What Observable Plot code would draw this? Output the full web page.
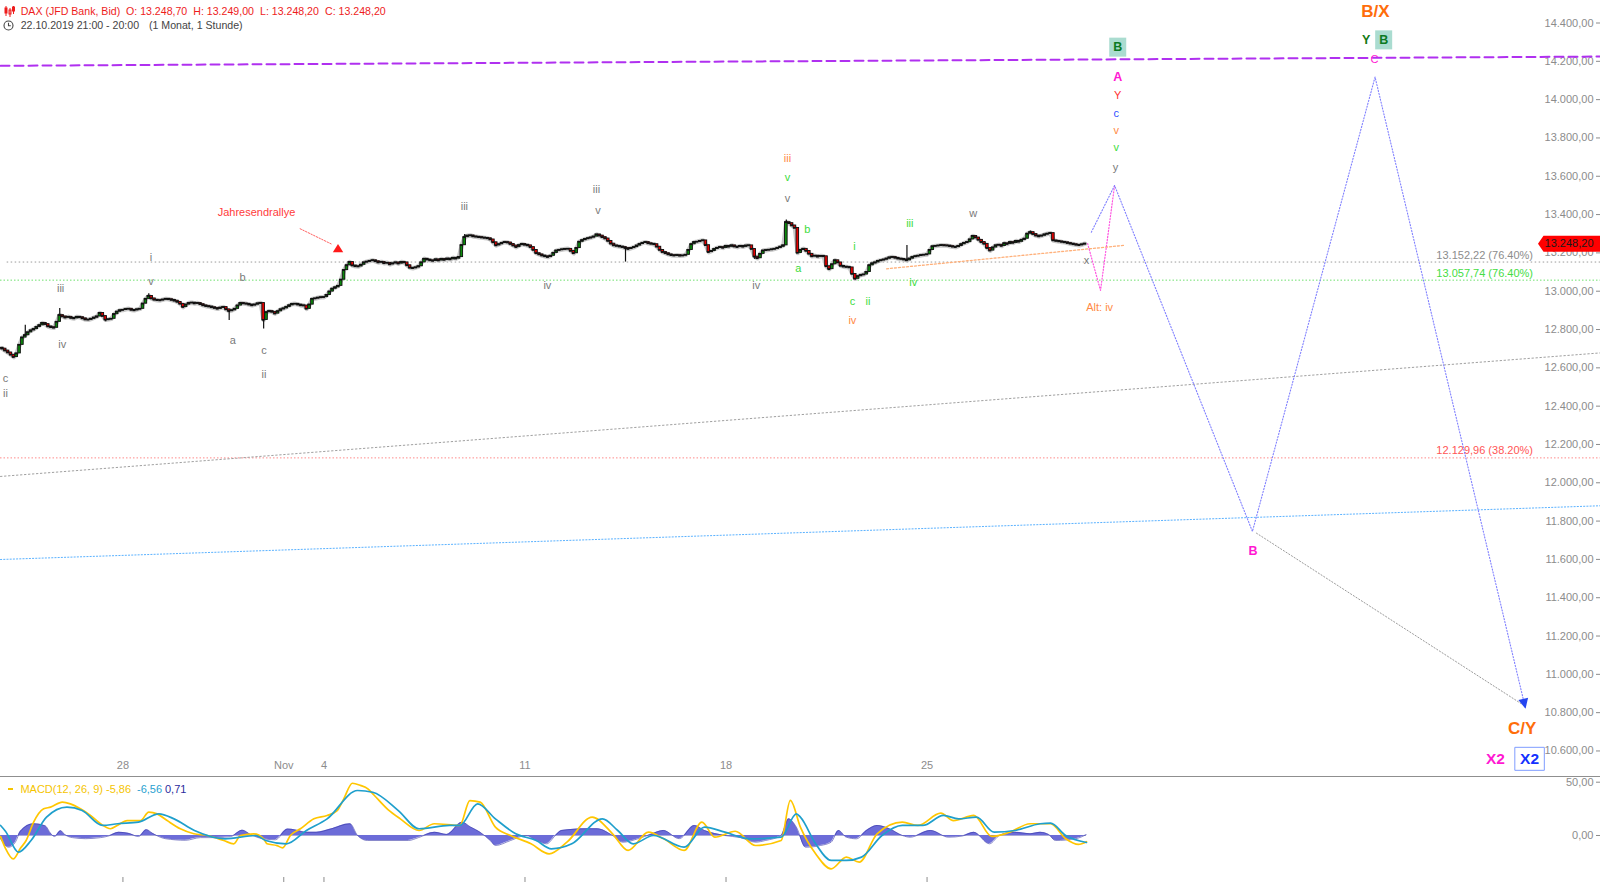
<!DOCTYPE html>
<html><head><meta charset="utf-8">
<script src="https://cdn.jsdelivr.net/npm/d3@7"></script>
<script src="https://cdn.jsdelivr.net/npm/@observablehq/plot@0.6"></script>
<style>
html,body{margin:0;padding:0;background:#fff;}
#wrap{position:relative;width:1600px;height:882px;overflow:hidden;font-family:"Liberation Sans",Arial,sans-serif;}
#main{position:absolute;left:0;top:0;}
#macd{position:absolute;left:0;top:776px;border-top:1px solid #8f8f8f;width:1600px;height:105px;}
.hd{position:absolute;white-space:nowrap;line-height:1;}
</style></head><body>
<div id="wrap">
  <div id="main"></div>
  <div id="macd"></div>
  <div id="header"></div>
  <div id="legend"></div>
</div>
<script>
// ---------------- DATA ----------------
// hourly closes (14 bars per trading day), bar 0 = Wed 23.10.2019 08:00
const closes = [
12700,12690,12680,12668,12656,12675,12720,12758,12770,12785,
12795,12802,12813,12822,12834,12828,12816,12812,12809,12840,
12875,12868,12862,12866,12860,12858,12866,12864,12858,12852,
12851,12856,12862,12868,12886,12870,12851,12853,12856,12880,
12893,12900,12902,12906,12908,12902,12900,12905,12908,12935,
12960,12975,12962,12955,12953,12952,12956,12960,12958,12954,
12950,12944,12934,12917,12930,12938,12940,12936,12938,12932,
12926,12922,12920,12916,12912,12908,12914,12917,12905,12896,
12900,12908,12925,12938,12936,12934,12930,12926,12930,12936,
12938,12850,12890,12896,12892,12883,12895,12905,12910,12918,
12926,12933,12934,12930,12926,12925,12908,12930,12960,12962,
12966,12968,12969,12980,12998,13013,13020,13028,13060,13110,
13135,13152,13134,13130,13129,13138,13150,13154,13158,13161,
13156,13150,13153,13146,13148,13140,13145,13150,13144,13152,
13150,13135,13122,13120,13124,13130,13150,13169,13165,13161,
13158,13166,13160,13168,13163,13170,13166,13174,13170,13178,
13240,13282,13290,13291,13286,13284,13282,13280,13278,13276,
13270,13255,13239,13245,13252,13256,13254,13246,13238,13230,
13240,13246,13242,13239,13230,13215,13198,13192,13186,13182,
13178,13185,13200,13212,13215,13218,13220,13221,13210,13198,
13225,13258,13266,13272,13276,13280,13285,13296,13290,13282,
13275,13262,13248,13239,13236,13233,13230,13225,13220,13225,
13230,13238,13246,13252,13256,13250,13247,13245,13232,13215,
13204,13198,13192,13188,13186,13188,13185,13186,13190,13215,
13245,13256,13258,13262,13265,13240,13204,13210,13220,13226,
13230,13226,13236,13232,13239,13233,13230,13236,13232,13238,
13239,13220,13180,13172,13195,13212,13214,13216,13218,13221,
13226,13232,13239,13360,13355,13343,13330,13200,13215,13221,
13210,13195,13182,13185,13180,13184,13182,13130,13115,13140,
13161,13150,13132,13128,13126,13124,13090,13065,13078,13085,
13087,13100,13135,13145,13150,13158,13161,13165,13170,13176,
13178,13174,13170,13168,13165,13161,13170,13178,13182,13185,
13188,13190,13192,13215,13234,13236,13238,13240,13239,13238,
13235,13232,13230,13236,13245,13252,13256,13270,13288,13280,
13268,13256,13247,13225,13212,13228,13239,13242,13236,13250,
13246,13256,13252,13262,13258,13268,13274,13300,13308,13298,
13290,13286,13290,13296,13300,13303,13265,13262,13260,13257,
13255,13251,13248,13245,13242,13240,13244,13248
];
const firstOpen = 12705;
const wickHighs = [[8,12822],[20,12910],[51,12987],[161,13296],[273,13372],[315,13239],[358,13314]];
const wickLows = [[36,12840],[79,12847],[91,12803],[217,13152],[262,13165],[297,13058]];
const lastPrice = 13248.20;

// x-axis: first bar of each labelled trading day
const dayTickBars = [42, 98, 112, 182, 252, 322];
const dayTickLabels = ["28", "Nov", "4", "11", "18", "25"];
const priceTicks = [10600,10800,11000,11200,11400,11600,11800,12000,12200,12400,12600,12800,13000,13200,13400,13600,13800,14000,14200,14400];
const macdTicks = [0, 50];

// retracement levels
const fibPrices = [13152.22, 13057.74, 12129.96];
const fibPcts = ["76.40%", "76.40%", "38.20%"];

// lines: [bar, price]
const resistanceLine = [[-0.63, 14176.6], [556.5, 14225]];
const lowerTrend = [[-0.63, 12033], [556.5, 12678]];
const channelLine = [[-0.63, 11599.5], [556.5, 11880]];
const projectionPath = [[379.2, 13308], [387.3, 13552], [435.3, 11746], [478, 14118], [530.4, 10821]];
const altPath = [[377.9, 13249], [382.4, 13004], [387.3, 13552]];
const orangeLine = [[307.9, 13117], [390.4, 13239]];
const bTargetLine = [[436.7, 11737], [529.3, 10843]];
const rallyArrow = [[103.7, 13326], [114.5, 13247]];
const rallyMarker = [[116.9, 13224.5]];

// labels: [bar, price, text]
const grayWaves = [[1.1,12543,"c"],[1.1,12468,"ii"],[20.3,13012,"iii"],[20.9,12720,"iv"],[51.8,13177,"i"],[51.8,13052,"v"],[83.7,13070,"b"],[80.3,12743,"a"],[91.1,12690,"c"],[91.1,12564,"ii"],[160.9,13444,"iii"],[189.8,13028,"iv"],[206.9,13531,"iii"],[207.4,13421,"v"],[262.5,13030,"iv"],[273.4,13482,"v"],[338.1,13407,"w"],[377.5,13160,"x"],[387.6,13647,"y"]];
const greenWaves = [[273.4,13592,"v"],[280.3,13322,"b"],[277.2,13120,"a"],[296.7,13233,"i"],[296,12948,"c"],[301.4,12948,"ii"],[316,13355,"iii"],[317.2,13047,"iv"],[387.9,13752,"v"]];
const orangeWaves = [[273.4,13691,"iii"],[296,12847,"iv"],[387.9,13839,"v"],[382.1,12913,"Alt: iv"]];
const magentaMajor = [[388.4,14117,"A"],[435.5,11646,"B"]];
const magentaSmall = [[477.8,14208,"C"]];
const magentaX = [[519.9,10559,"X2"]];
const redSmall = [[388.4,14021,"Y"]];
const blueSmall = [[387.9,13926,"c"]];
const greenMajor = [[474.9,14312,"Y"]];
const boxedB = [[388.4,14274,"B"],[481,14312,"B"]];
const orangeMajor = [[478.1,14461,"B/X"],[529.2,10716,"C/Y"]];
const boxedX = [[531.8,10559,"X2"]];
const noteLabels = [[88.5,13409,"Jahresendrallye"]];

// MACD(12,26,9): [bar, value]
const macdLine = [[-0.6,-1],[1.1,-12],[3.8,-22],[6.3,-12],[8.3,-4.7],[10.9,12.5],[14.4,25],[16.8,26.6],[20.9,31.3],[23.7,29.7],[27.2,25],[30.7,18.8],[34.2,11],[37.7,6.3],[40,9.4],[43.5,14],[48.1,14],[51,21.9],[53.9,20.3],[57.4,14],[62,6.3],[66.7,1.6],[71.3,0],[77.1,-4.7],[80.6,-7.8],[82.9,0],[87.6,1.6],[91,-3.1],[92.2,-7.8],[95.7,-9.5],[97.6,-11.6],[100.3,0],[103.8,6.3],[108.5,15.6],[113.1,18.8],[116.6,23.4],[118.9,34.4],[121.9,49],[124.7,47],[127.3,43.8],[129.4,38],[134.4,24],[138.6,15.6],[145.1,4.7],[150.4,11],[159.3,9.4],[162.8,32.8],[166.4,31.3],[171.7,7.8],[177,0],[184.1,-7.8],[190.4,-17.2],[196.6,-6.3],[205.4,17.2],[212.5,1.6],[217.9,-14],[225,3.1],[230.3,-3.1],[237.4,-14],[243.6,12.5],[248.1,-1.6],[255.2,4],[262.3,-9.4],[271.2,-4.7],[274.4,33],[277.9,7.8],[283.2,-17.2],[288.6,-31.3],[293.9,-20.3],[298.4,-25],[304.6,1.6],[313.4,12.5],[318.8,9.4],[326.8,21],[331.2,14],[338.3,18.8],[344.5,-0.9],[350.8,3.1],[357.9,11],[365,11],[370.3,-3.1],[374.7,-8.4],[377.5,-5.86]];
const signalLine = [[-0.6,9.4],[1.1,4],[5.6,-15.6],[10,-4.7],[15.4,17.2],[22.5,26.6],[27.8,23.4],[34.9,9.4],[40.2,11],[47.4,12.5],[54.5,20.3],[59.8,15.6],[66.9,4.7],[77.5,-3.1],[88.2,0],[91.7,-4.7],[98.9,-7.8],[105.9,4.7],[113.1,15.6],[123.7,42.2],[129,40.6],[137.9,23.4],[145.1,6.3],[155.7,9.4],[159.3,9.4],[165.5,29.7],[171.7,15.6],[178.8,1.6],[185.9,-4.7],[191.2,-12.5],[198.3,-7.8],[209,15.6],[214.3,4.7],[219.7,-7.8],[226.7,0],[237.4,-11],[244.5,7.8],[251.6,3.1],[260.5,-3.1],[271.2,-1.6],[276.5,20.3],[277.9,17.2],[283.2,-7.8],[288.6,-23.4],[293.9,-23.4],[299.2,-20.3],[306.3,0],[313.4,9.4],[320.5,9.4],[327.7,18.8],[333,15.6],[339.2,17.2],[345.4,3.1],[352.6,4.7],[361.4,11],[365,11.6],[370.3,0],[377.5,-6.56]];
const histogram = [[-0.6,-3],[2.2,-11],[4.6,-6],[6.3,4],[10.9,11],[15,9],[16.8,2],[18.2,-1],[20.3,4.5],[21.7,1],[24.4,-2],[29,-3],[34.2,-2],[37,-0.5],[40.5,3],[43.9,2],[47.4,-1],[50.2,5.5],[52.3,2],[56.8,-3],[63.8,-4.5],[69,-2],[74.2,-2],[79.5,-1],[83.6,5],[86.4,1],[90.6,-3],[95.1,-4],[99.3,6],[102.4,5],[105.9,3],[109.4,3],[114.3,6],[121.1,11],[123.7,0],[127.1,-4.7],[141.4,-4.7],[144.9,-2],[150.5,3],[154.7,1],[160.1,12.5],[163,8],[166.4,3],[170,-5],[171.7,-9.4],[177,-4.7],[182.3,0],[185.9,-4.7],[189.5,-7.8],[192.6,0],[194.7,4.7],[203.6,6.3],[207.2,6.3],[212.5,0],[216.1,-6.3],[221.4,-3],[225.7,1],[230.2,4.7],[235.7,-3],[241,9.4],[244.5,4.7],[251.6,0],[257,-2],[262.3,-6.3],[265.7,-4.7],[271.2,0],[273.8,15.6],[276.5,7.8],[279.7,-11],[284.9,-9.4],[288.6,-6.3],[291.2,4.7],[293.9,-1.6],[297.4,-3.1],[300.9,4.7],[304.6,9.4],[308.9,6.3],[313.4,0],[316.1,-1.6],[323.2,4.7],[329.5,-1.6],[334.3,-0.5],[338.3,3],[343.7,-7.8],[347.2,0],[352.4,3],[357.9,1.6],[361.4,3],[364.3,1],[366.7,-4.7],[373.8,-3],[377.4,0.71]];

// ---------------- BUILD ----------------
const de = d3.formatLocale({decimal: ",", thousands: ".", grouping: [3], currency: ["", "€"]});
const fmt2 = de.format(",.2f");
const X = d => d[0], Y = d => d[1], T = d => d[2];
const FONT = '"Liberation Sans", Arial, sans-serif';
const xDomain = [-0.63, 556.5];

const candles = closes.map((c, i) => {
  const o = i === 0 ? firstOpen : closes[i - 1];
  return {b: i, o, c, h: Math.max(o, c), l: Math.min(o, c)};
});
for (const [i, h] of wickHighs) candles[i].h = Math.max(candles[i].h, h);
for (const [i, l] of wickLows) candles[i].l = Math.min(candles[i].l, l);
const ups = candles.filter(d => d.c > d.o), downs = candles.filter(d => d.c < d.o);

const rectSymbol = (w, h) => ({draw(ctx) { ctx.rect(-w / 2, -h / 2, w, h); }});
const upTriangle = {draw(ctx) { ctx.moveTo(0, -4.2); ctx.lineTo(5.2, 4); ctx.lineTo(-5.2, 4); ctx.closePath(); }};
const arrowHead = (() => {
  const a = 13.4 * Math.PI / 180, dx = Math.sin(a), dy = Math.cos(a), px = dy, py = -dx;
  return {draw(ctx) {
    ctx.moveTo(0, 0);
    ctx.lineTo(-10 * dx + 5 * px, -10 * dy + 5 * py);
    ctx.lineTo(-10 * dx - 5 * px, -10 * dy - 5 * py);
    ctx.closePath();
  }};
})();
const priceTag = {draw(ctx) { ctx.moveTo(-62.5, 0); ctx.lineTo(-57, -8); ctx.lineTo(0, -8); ctx.lineTo(0, 8); ctx.lineTo(-57, 8); ctx.closePath(); }};

const lineOpts = (stroke, dash, w = 1) => ({x: X, y: Y, stroke, strokeDasharray: dash, strokeWidth: w});

const main = Plot.plot({
  width: 1600, height: 777, margin: 0,
  x: {domain: xDomain, axis: null},
  y: {domain: [10461.5, 14517.5], axis: null},
  style: {fontFamily: FONT, fontSize: "11px", background: "transparent", overflow: "visible"},
  marks: [
    // y axis (inside, right)
    Plot.text(priceTicks, {y: d => d, frameAnchor: "right", textAnchor: "end", dx: -7, text: d => fmt2(d), fill: "#8c8c8c", fontSize: 11}),
    Plot.ruleY(priceTicks, {insetLeft: 1596, stroke: "#8c8c8c"}),
    // x labels
    Plot.text(dayTickBars, {x: d => d, frameAnchor: "bottom", dy: -8.5, text: (d, i) => dayTickLabels[i], fill: "#8c8c8c", fontSize: 11}),
    // levels
    Plot.ruleY([fibPrices[0]], {x1: 1.7, x2: xDomain[1], stroke: "#9a9a9a", strokeDasharray: "1.5,2.5"}),
    Plot.ruleY([fibPrices[1]], {stroke: "#6ee06e", strokeDasharray: "1.5,2"}),
    Plot.ruleY([fibPrices[2]], {stroke: "#ff8a8a", strokeDasharray: "1.5,2"}),
    Plot.text([0], {x: 533, y: fibPrices[0], dy: -7, textAnchor: "end", text: () => fmt2(fibPrices[0]) + " (" + fibPcts[0] + ")", fill: "#8c8c8c", fontSize: 11}),
    Plot.text([1], {x: 533, y: fibPrices[1], dy: -7, textAnchor: "end", text: () => fmt2(fibPrices[1]) + " (" + fibPcts[1] + ")", fill: "#44dd44", fontSize: 11}),
    Plot.text([2], {x: 533, y: fibPrices[2], dy: -7, textAnchor: "end", text: () => fmt2(fibPrices[2]) + " (" + fibPcts[2] + ")", fill: "#ff5555", fontSize: 11}),
    // trend lines
    Plot.line(lowerTrend, lineOpts("#a0a0a0", "1.5,2.5")),
    Plot.line(channelLine, lineOpts("#5ab2ff", "1.2,2", 1)),
    Plot.line(resistanceLine, lineOpts("#b030f0", "9,5", 2)),
    Plot.line(orangeLine, lineOpts("#ffb07a", "2,2", 1.3)),
    Plot.line(bTargetLine, lineOpts("#9a9a9a", "1.2,2")),
    Plot.line(rallyArrow, lineOpts("#ff6060", "1.5,1.5")),
    Plot.line(altPath, lineOpts("#ff55e0", "1.2,1.8", 1.2)),
    Plot.line(projectionPath, lineOpts("#7f7fff", "1.2,1.8", 1.1)),
    Plot.dot([projectionPath[projectionPath.length - 1]], {x: X, y: Y, r: 5, symbol: arrowHead, fill: "#2545f0", stroke: "none"}),
    Plot.dot(rallyMarker, {x: X, y: Y, r: 5, symbol: upTriangle, fill: "#ff1a1a", stroke: "none"}),
    // candles (soft shadow + wicks + bodies)
    Plot.line(candles, {x: "b", y: "c", stroke: "#c8c8c8", strokeWidth: 4.5, strokeLinejoin: "round"}),
    Plot.ruleX(candles, {x: "b", y1: "l", y2: "h", stroke: "#111", strokeWidth: 1.2}),
    Plot.rect(ups, {x1: d => d.b - 0.45, x2: d => d.b + 0.45, y1: "o", y2: "c", fill: "#0c8a0c", stroke: "#111", strokeWidth: 0.9}),
    Plot.rect(downs, {x1: d => d.b - 0.45, x2: d => d.b + 0.45, y1: "o", y2: "c", fill: "#e60000", stroke: "#111", strokeWidth: 0.9}),
    Plot.ruleY(candles, {y: "c", x1: d => d.b - 0.5, x2: d => d.b + 0.5, stroke: "#111", strokeWidth: 1.6}),
    // wave labels
    Plot.text(grayWaves, {x: X, y: Y, text: T, fill: "#7a7a7a", fontSize: 11}),
    Plot.text(greenWaves, {x: X, y: Y, text: T, fill: "#3ddc3d", fontSize: 11}),
    Plot.text(orangeWaves, {x: X, y: Y, text: T, fill: "#ff8a45", fontSize: 11}),
    Plot.text(magentaMajor, {x: X, y: Y, text: T, fill: "#ff18d2", fontSize: 12.5, fontWeight: "bold"}),
    Plot.text(magentaSmall, {x: X, y: Y, text: T, fill: "#ff18d2", fontSize: 11}),
    Plot.text(magentaX, {x: X, y: Y, text: T, fill: "#ff18d2", fontSize: 15.5, fontWeight: "bold"}),
    Plot.text(redSmall, {x: X, y: Y, text: T, fill: "#ff3030", fontSize: 11}),
    Plot.text(blueSmall, {x: X, y: Y, text: T, fill: "#3050ff", fontSize: 11}),
    Plot.text(greenMajor, {x: X, y: Y, text: T, fill: "#137a13", fontSize: 12.5, fontWeight: "bold"}),
    Plot.dot(boxedB, {x: X, y: Y, r: 5, symbol: rectSymbol(17, 19), fill: "#aadcd0", stroke: "none"}),
    Plot.text(boxedB, {x: X, y: Y, text: T, fill: "#0b7a22", fontSize: 12.5, fontWeight: "bold"}),
    Plot.text(orangeMajor, {x: X, y: Y, text: T, fill: "#ff6d0a", fontSize: 17, fontWeight: "bold"}),
    Plot.dot(boxedX, {x: X, y: Y, r: 5, symbol: rectSymbol(29.5, 23), fill: "#fff", stroke: "#7f9cff", strokeWidth: 1}),
    Plot.text(boxedX, {x: X, y: Y, text: T, fill: "#1432ff", fontSize: 15.5, fontWeight: "bold"}),
    Plot.text(noteLabels, {x: X, y: Y, text: T, fill: "#ff3b3b", fontSize: 11}),
    // last price tag
    Plot.dot([lastPrice], {y: d => d, frameAnchor: "right", r: 5, symbol: priceTag, fill: "#ff0000", stroke: "none"}),
    Plot.text([lastPrice], {y: d => d, frameAnchor: "right", textAnchor: "end", dx: -7, text: d => fmt2(d), fill: "#1a1a1a", fontSize: 11})
  ]
});
document.getElementById("main").appendChild(main);

const macd = Plot.plot({
  width: 1600, height: 105, margin: 0,
  x: {domain: xDomain, axis: null},
  y: {domain: [-44.1, 54.4], axis: null},
  style: {fontFamily: FONT, fontSize: "11px", background: "transparent", overflow: "visible"},
  marks: [
    Plot.ruleY([0], {x1: -0.63, x2: 377.5, stroke: "#a9a9d9"}),
    Plot.areaY(histogram, {x: X, y: Y, curve: "monotone-x", fill: "#6c6cd8"}),
    Plot.line(histogram, {x: X, y: Y, curve: "monotone-x", stroke: "#3a3aa8", strokeWidth: 0.6}),
    Plot.line(macdLine, {x: X, y: Y, curve: "monotone-x", stroke: "#ffc600", strokeWidth: 1.7}),
    Plot.line(signalLine, {x: X, y: Y, curve: "monotone-x", stroke: "#1f9fcc", strokeWidth: 1.7}),
    Plot.text(macdTicks, {y: d => d, frameAnchor: "right", textAnchor: "end", dx: -7, text: d => fmt2(d), fill: "#8c8c8c", fontSize: 11}),
    Plot.ruleY(macdTicks, {insetLeft: 1596, stroke: "#8c8c8c"}),
    Plot.ruleX(dayTickBars, {x: d => d, insetTop: 100, stroke: "#8c8c8c"})
  ]
});
document.getElementById("macd").appendChild(macd);

// header & legend (text overlays)
const hdr = document.getElementById("header");
const put = (parent, left, top, size, color, html) => {
  const s = document.createElement("div");
  s.className = "hd"; s.style.left = left + "px"; s.style.top = top + "px";
  s.style.fontSize = size + "px"; s.style.color = color; s.innerHTML = html;
  parent.appendChild(s);
};
const headerParts = [[20.7, "DAX (JFD Bank, Bid)"], [126, "O: 13.248,70"], [193.3, "H: 13.249,00"], [260, "L: 13.248,20"], [325, "C: 13.248,20"]];
for (const [l, t] of headerParts) put(hdr, l, 6.3, 10.6, "#ee1c1c", t);
put(hdr, 20.7, 19.7, 10.6, "#444", "22.10.2019 21:00 - 20:00");
put(hdr, 149, 19.7, 10.6, "#444", "(1 Monat, 1 Stunde)");
put(hdr, 4, 5, 10, "#ee1c1c", '<svg width="11" height="12"><g stroke="#ee1c1c" fill="#ee1c1c"><line x1="2" y1="1" x2="2" y2="11"/><rect x="1" y="3" width="2" height="5"/><line x1="6" y1="3" x2="6" y2="12"/><rect x="5" y="5" width="2" height="4" fill="none"/><line x1="9.5" y1="1" x2="9.5" y2="9"/><rect x="8.5" y="2" width="2" height="4"/></g></svg>');
put(hdr, 3, 19.5, 10, "#444", '<svg width="11" height="11"><circle cx="5.5" cy="5.5" r="4.5" fill="none" stroke="#444" stroke-width="1.1"/><path d="M5.5 2.8 V5.7 H7.8" fill="none" stroke="#444" stroke-width="1.1"/></svg>');

const lg = document.getElementById("legend");
put(lg, 8, 787.8, 11, "#f5c400", '<div style="width:4.5px;height:2.4px;background:#f5c400"></div>');
const legendParts = [[20.4, "#f5c400", "MACD(12, 26, 9)"], [106, "#f5c400", "-5,86"], [137, "#2a9fd0", "-6,56"], [165, "#2b2b9c", "0,71"]];
for (const [l, c, t] of legendParts) put(lg, l, 783.5, 11, c, t);
</script>
</body></html>
